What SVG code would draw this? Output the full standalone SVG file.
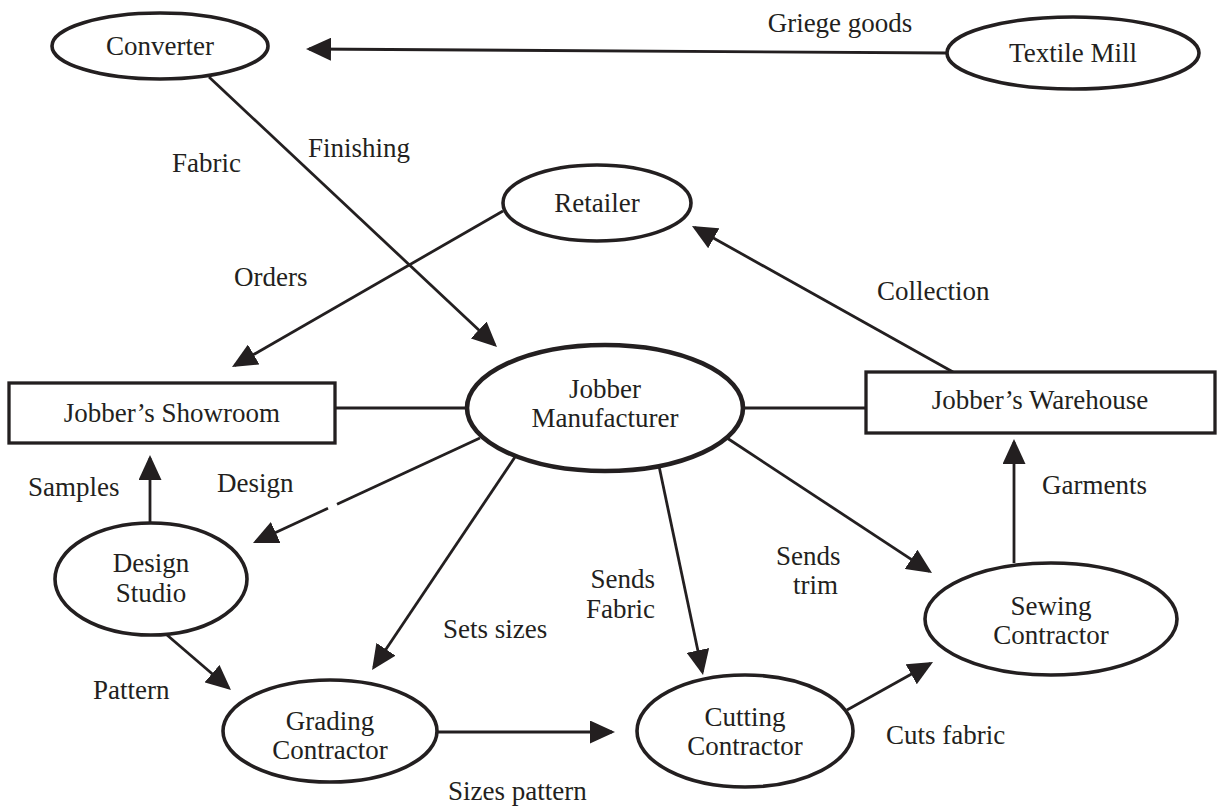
<svg xmlns="http://www.w3.org/2000/svg" width="1218" height="808" viewBox="0 0 1218 808">
  <style>
    text { font-family: "Liberation Serif", "Times New Roman", serif; font-size: 27px; fill: #231f20; }
    .c { text-anchor: middle; }
    .node { fill: #fff; stroke: #231f20; stroke-width: 3.6; }
    .main { stroke-width: 4.6; }
    .box { fill: #fff; stroke: #231f20; stroke-width: 3.3; }
    .link { fill: none; stroke: #231f20; stroke-width: 2.8; }
    .arrow { marker-end: url(#head); }
  </style>
  <defs>
    <marker id="head" markerUnits="userSpaceOnUse" markerWidth="25" markerHeight="23" viewBox="0 0 25 23" refX="22" refY="11.5" orient="auto">
      <path d="M0,0 L25,11.5 L0,23 Z" fill="#231f20"/>
    </marker>
  </defs>

  <!-- connectors -->
  <g id="connectors">
    <line class="link arrow" x1="947" y1="53" x2="309" y2="49"/>
    <line class="link arrow" x1="209" y1="77" x2="494.8" y2="345"/>
    <line class="link arrow" x1="503" y1="211" x2="234.6" y2="365.5"/>
    <line class="link arrow" x1="953" y1="372" x2="694.6" y2="227.5"/>
    <line class="link" x1="335" y1="408" x2="467" y2="408"/>
    <line class="link" x1="743" y1="408" x2="866" y2="408"/>
    <line class="link arrow" x1="150" y1="523" x2="150" y2="458"/>
    <line class="link" x1="480" y1="438" x2="337" y2="504.2"/>
    <line class="link arrow" x1="328" y1="508.3" x2="255.7" y2="541.7"/>
    <line class="link arrow" x1="167" y1="635" x2="228.7" y2="688"/>
    <line class="link arrow" x1="515" y1="457" x2="373.7" y2="667.5"/>
    <line class="link arrow" x1="438" y1="732" x2="612" y2="732"/>
    <line class="link arrow" x1="659" y1="466" x2="702.4" y2="672"/>
    <line class="link arrow" x1="847" y1="710" x2="930.4" y2="663.5"/>
    <line class="link arrow" x1="727" y1="438" x2="929.5" y2="571.4"/>
    <line class="link arrow" x1="1014" y1="563" x2="1014" y2="442"/>
  </g>

  <!-- connector labels -->
  <g id="labels">
    <text class="c" x="840" y="32">Griege goods</text>
    <text x="172" y="172">Fabric</text>
    <text x="308" y="157">Finishing</text>
    <text x="234" y="286">Orders</text>
    <text x="877" y="300">Collection</text>
    <text x="28" y="496">Samples</text>
    <text x="217" y="492">Design</text>
    <text x="1042" y="494">Garments</text>
    <text x="776" y="565">Sends</text>
    <text x="793" y="594">trim</text>
    <text x="655" y="588" text-anchor="end">Sends</text>
    <text x="655" y="618" text-anchor="end">Fabric</text>
    <text x="443" y="638">Sets sizes</text>
    <text x="93" y="699">Pattern</text>
    <text x="886" y="744">Cuts fabric</text>
    <text x="448" y="800">Sizes pattern</text>
  </g>

  <g id="converter">
    <ellipse class="node" cx="160" cy="46" rx="108" ry="33"/>
    <text class="c" x="160" y="55">Converter</text>
  </g>
  <g id="textile-mill">
    <ellipse class="node" cx="1073" cy="53" rx="126" ry="36"/>
    <text class="c" x="1073" y="62">Textile Mill</text>
  </g>
  <g id="retailer">
    <ellipse class="node" cx="597" cy="203" rx="94" ry="38"/>
    <text class="c" x="597" y="212">Retailer</text>
  </g>
  <g id="showroom">
    <rect class="box" x="9" y="383" width="326" height="60"/>
    <text class="c" x="172" y="422">Jobber’s Showroom</text>
  </g>
  <g id="manufacturer">
    <ellipse class="node main" cx="605" cy="408" rx="138" ry="63"/>
    <text class="c" x="605" y="398">Jobber</text>
    <text class="c" x="605" y="427">Manufacturer</text>
  </g>
  <g id="warehouse">
    <rect class="box" x="866" y="372" width="349" height="61"/>
    <text class="c" x="1040" y="409">Jobber’s Warehouse</text>
  </g>
  <g id="design-studio">
    <ellipse class="node" cx="151" cy="579" rx="96" ry="56"/>
    <text class="c" x="151" y="572">Design</text>
    <text class="c" x="151" y="602">Studio</text>
  </g>
  <g id="grading">
    <ellipse class="node" cx="330" cy="731" rx="107" ry="51"/>
    <text class="c" x="330" y="730">Grading</text>
    <text class="c" x="330" y="759">Contractor</text>
  </g>
  <g id="cutting">
    <ellipse class="node" cx="745" cy="731" rx="108" ry="56"/>
    <text class="c" x="745" y="726">Cutting</text>
    <text class="c" x="745" y="755">Contractor</text>
  </g>
  <g id="sewing">
    <ellipse class="node" cx="1051" cy="619" rx="126" ry="56"/>
    <text class="c" x="1051" y="615">Sewing</text>
    <text class="c" x="1051" y="644">Contractor</text>
  </g>
</svg>
